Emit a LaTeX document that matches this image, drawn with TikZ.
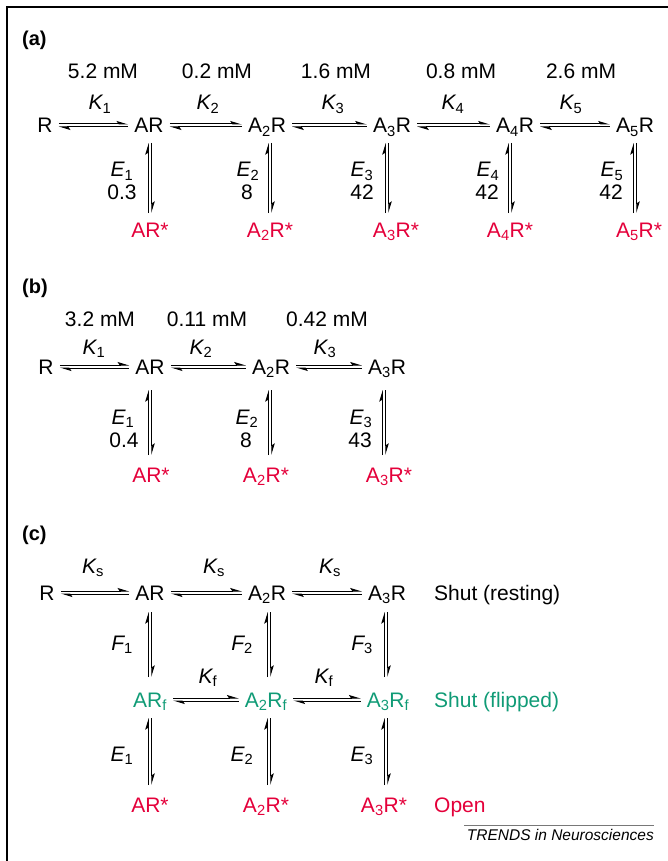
\documentclass[tikz,border=0pt]{standalone}
\usepackage{fontspec}
\setmainfont{Liberation Sans}
\usetikzlibrary{arrows.meta,calc}
\definecolor{myred}{RGB}{228,0,58}
\definecolor{mygreen}{RGB}{16,155,118}
\definecolor{rulegray}{RGB}{120,120,120}
\tikzset{
  txt/.style={anchor=base, inner sep=0pt, font=\fontsize{21}{25}\selectfont},
  sp/.style={txt},
  act/.style={txt, text=myred},
  flp/.style={txt, text=mygreen},
  side/.style={anchor=base west, inner sep=0pt, font=\fontsize{21}{25}\selectfont},
  panel/.style={anchor=base west, inner sep=0pt, font=\fontsize{20}{24}\selectfont\bfseries},
  harp/.style={line width=1pt, -{Stealth[harpoon, length=10pt, width=6pt, inset=2pt]}},
  frameline/.style={line width=1.5pt},
}
\newcommand{\Kk}[1]{{\itshape K}\textsubscript{#1}}
\newcommand{\Ek}[1]{{\itshape E}\textsubscript{#1}}
\newcommand{\Fk}[1]{{\itshape F}\textsubscript{#1}}
% horizontal equilibrium between two nodes
\newcommand{\eqH}[2]{%
  \draw[harp] ($(#1.base east)+(6,-9)$) -- ($(#2.base west)+(-6,-9)$);
  \draw[harp] ($(#2.base west)+(-6,-6)$) -- ($(#1.base east)+(6,-6)$);}
% vertical equilibrium: top node, bottom node, x offset, top gap, bottom gap
\newcommand{\eqV}[5]{%
  \path ($(#1.base)+(#3-1.75,#4)$) coordinate (vtl)
        ($(#1.base)+(#3+1.75,#4)$) coordinate (vtr)
        ($(#2.base)+(0,-#5)$) coordinate (vb);
  \draw[harp] (vtl |- vb) -- (vtl);
  \draw[harp] (vtr) -- (vtr |- vb);}
\begin{document}
\begin{tikzpicture}[x=1pt,y=-1pt]
\useasboundingbox (0,0) rectangle (668,861);
\draw[frameline] (7,861) -- (7,7) -- (668,7);

% ---------------- panel (a)
\node[panel] (pa) at (22,46) {(a)};
\node[txt] (ca1) at (103,79) {5.2 mM};
\node[txt] (ca2) at (217,79) {0.2 mM};
\node[txt] (ca3) at (336,79) {1.6 mM};
\node[txt] (ca4) at (461,79) {0.8 mM};
\node[txt] (ca5) at (581,79) {2.6 mM};
\node[txt] (ka1) at (100,110) {\Kk{1}};
\node[txt] (ka2) at (208,110) {\Kk{2}};
\node[txt] (ka3) at (333,110) {\Kk{3}};
\node[txt] (ka4) at (453,110) {\Kk{4}};
\node[txt] (ka5) at (571,110) {\Kk{5}};
\node[sp] (aR)   at (45,133)  {R};
\node[sp] (aAR)  at (149,133) {AR};
\node[sp] (aA2R) at (267,133) {A\textsubscript{2}R};
\node[sp] (aA3R) at (392,133) {A\textsubscript{3}R};
\node[sp] (aA4R) at (515,133) {A\textsubscript{4}R};
\node[sp] (aA5R) at (635,133) {A\textsubscript{5}R};
\eqH{aR}{aAR}
\eqH{aAR}{aA2R}
\eqH{aA2R}{aA3R}
\eqH{aA3R}{aA4R}
\eqH{aA4R}{aA5R}
\node[txt] (ea1) at (122,177) {\Ek{1}};
\node[txt] (ea2) at (248,177) {\Ek{2}};
\node[txt] (ea3) at (362,177) {\Ek{3}};
\node[txt] (ea4) at (488,177) {\Ek{4}};
\node[txt] (ea5) at (612,177) {\Ek{5}};
\node[txt] (na1) at (122,200) {0.3};
\node[txt] (na2) at (247,200) {8};
\node[txt] (na3) at (362,200) {42};
\node[txt] (na4) at (487,200) {42};
\node[txt] (na5) at (611,200) {42};
\node[act] (aARs)  at (150,237) {AR*};
\node[act] (aA2Rs) at (270,237) {A\textsubscript{2}R*};
\node[act] (aA3Rs) at (396,237) {A\textsubscript{3}R*};
\node[act] (aA4Rs) at (510,237) {A\textsubscript{4}R*};
\node[act] (aA5Rs) at (639,237) {A\textsubscript{5}R*};
\eqV{aAR}{aARs}{1}{10}{24}
\eqV{aA2R}{aA2Rs}{3}{10}{24}
\eqV{aA3R}{aA3Rs}{-5}{10}{24}
\eqV{aA4R}{aA4Rs}{-5}{10}{24}
\eqV{aA5R}{aA5Rs}{0}{10}{24}

% ---------------- panel (b)
\node[panel] (pb) at (22,293) {(b)};
\node[txt] (cb1) at (100,326) {3.2 mM};
\node[txt] (cb2) at (207,326) {0.11 mM};
\node[txt] (cb3) at (327,326) {0.42 mM};
\node[txt] (kb1) at (94,354) {\Kk{1}};
\node[txt] (kb2) at (201,354) {\Kk{2}};
\node[txt] (kb3) at (325,354) {\Kk{3}};
\node[sp] (bR)   at (46,374)  {R};
\node[sp] (bAR)  at (150,374) {AR};
\node[sp] (bA2R) at (271,374) {A\textsubscript{2}R};
\node[sp] (bA3R) at (387,374) {A\textsubscript{3}R};
\eqH{bR}{bAR}
\eqH{bAR}{bA2R}
\eqH{bA2R}{bA3R}
\node[txt] (eb1) at (123,424) {\Ek{1}};
\node[txt] (eb2) at (247,424) {\Ek{2}};
\node[txt] (eb3) at (361,424) {\Ek{3}};
\node[txt] (nb1) at (124,447) {0.4};
\node[txt] (nb2) at (246,447) {8};
\node[txt] (nb3) at (360,447) {43};
\node[act] (bARs)  at (151,482) {AR*};
\node[act] (bA2Rs) at (266,482) {A\textsubscript{2}R*};
\node[act] (bA3Rs) at (389,482) {A\textsubscript{3}R*};
\eqV{bAR}{bARs}{0}{16}{27}
\eqV{bA2R}{bA2Rs}{-1}{16}{27}
\eqV{bA3R}{bA3Rs}{-3}{16}{27}

% ---------------- panel (c)
\node[panel] (pc) at (22,540) {(c)};
\node[txt] (kc1) at (93,573) {\Kk{s}};
\node[txt] (kc2) at (214,573) {\Kk{s}};
\node[txt] (kc3) at (330,573) {\Kk{s}};
\node[sp] (cR)   at (47,600)  {R};
\node[sp] (cAR)  at (150,600) {AR};
\node[sp] (cA2R) at (267,600) {A\textsubscript{2}R};
\node[sp] (cA3R) at (387,600) {A\textsubscript{3}R};
\node[side] (shr) at (434,600) {Shut (resting)};
\eqH{cR}{cAR}
\eqH{cAR}{cA2R}
\eqH{cA2R}{cA3R}
\node[txt] (fc1) at (122,650) {\Fk{1}};
\node[txt] (fc2) at (242,650) {\Fk{2}};
\node[txt] (fc3) at (362,650) {\Fk{3}};
\node[txt] (kf1) at (208,683) {\Kk{f}};
\node[txt] (kf2) at (324,683) {\Kk{f}};
\node[flp] (cARf)  at (150,707) {AR\textsubscript{f}};
\node[flp] (cA2Rf) at (266,707) {A\textsubscript{2}R\textsubscript{f}};
\node[flp] (cA3Rf) at (388,707) {A\textsubscript{3}R\textsubscript{f}};
\node[side, text=mygreen] (shf) at (434,707) {Shut (flipped)};
\eqH{cARf}{cA2Rf}
\eqH{cA2Rf}{cA3Rf}
\eqV{cAR}{cARf}{0}{12}{30}
\eqV{cA2R}{cA2Rf}{2}{12}{30}
\eqV{cA3R}{cA3Rf}{-1}{12}{30}
\node[txt] (ec1) at (122,761) {\Ek{1}};
\node[txt] (ec2) at (242,761) {\Ek{2}};
\node[txt] (ec3) at (362,761) {\Ek{3}};
\node[act] (cARs)  at (150,812) {AR*};
\node[act] (cA2Rs) at (266,812) {A\textsubscript{2}R*};
\node[act] (cA3Rs) at (384,812) {A\textsubscript{3}R*};
\node[side, text=myred] (opn) at (434,812) {Open};
\eqV{cARf}{cARs}{0}{11}{27}
\eqV{cA2Rf}{cA2Rs}{3}{11}{27}
\eqV{cA3Rf}{cA3Rs}{-2}{11}{27}

% ---------------- credit
\node[anchor=base east, inner sep=0pt, font=\fontsize{15.5}{18}\selectfont\itshape] (credit) at (654,840) {TRENDS in Neurosciences};
\draw[rulegray, line width=1pt] (464,825) -- (654,825);
\end{tikzpicture}
\end{document}
